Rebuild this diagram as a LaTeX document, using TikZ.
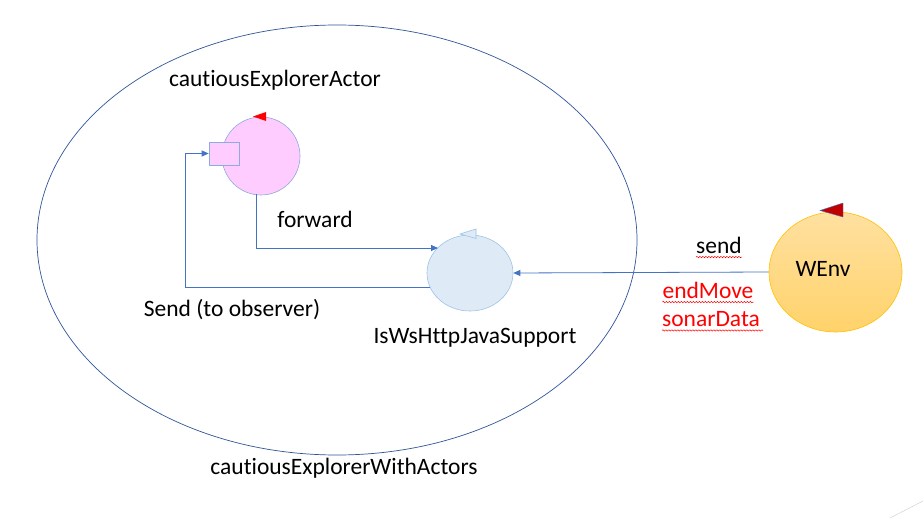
\documentclass[tikz,border=0pt]{standalone}
\usepackage{fontspec}
\setmainfont[RawFeature={-liga;-dlig;-clig}]{Carlito}
\usetikzlibrary{arrows.meta,decorations.pathmorphing,shapes.geometric}
\definecolor{conn}{HTML}{4472C4}
\definecolor{ellb}{HTML}{2F5597}
\definecolor{pinkf}{HTML}{FFCCFF}
\definecolor{lblue}{HTML}{8FAADC}
\definecolor{bluef}{HTML}{DEEBF7}
\definecolor{blueb}{HTML}{9DC3E6}
\definecolor{orgb}{HTML}{FFC000}
\definecolor{orgtop}{HTML}{FFE0A0}
\definecolor{orgbot}{HTML}{FFD36B}
\definecolor{dred}{HTML}{C00000}
\tikzset{
  lbl/.style={font=\fontsize{23.5}{26}\selectfont, inner sep=0pt},
  redlbl/.style={lbl, text=red},
  conline/.style={draw=conn, line width=0.8pt, -{Triangle[length=7pt,width=6pt]}},
  squig/.style={red, line width=0.5pt, decorate, decoration={snake, amplitude=0.7pt, segment length=3pt}}
}
\begin{document}
\begin{tikzpicture}[x=1pt,y=-1pt]
\useasboundingbox (0,0) rectangle (923,521);
\fill[white] (0,0) rectangle (923,521);
% big ellipse
\node[draw=ellb, line width=0.7pt, ellipse, minimum width=600pt, minimum height=430pt] (outer) at (337,240) {};
% pink actor
\node[draw=lblue, fill=pinkf, circle, minimum size=78pt, line width=0.6pt] (actor) at (261,156) {};
\node[draw=lblue, fill=pinkf, rectangle, minimum width=30pt, minimum height=23pt, line width=0.6pt] (port) at (224,153.5) {};
\fill[red] (253,116.5) -- (266,112) -- (266,121) -- cycle;
% support
\node[draw=blueb, fill=bluef, ellipse, minimum width=86pt, minimum height=76pt, line width=0.6pt] (support) at (470,273) {};
\filldraw[draw=blueb, fill=bluef, line width=0.6pt] (460,234) -- (476,229) -- (476,238.5) -- cycle;
% WEnv
\node[draw=orgb, top color=orgtop, bottom color=orgbot, ellipse, minimum width=133pt, minimum height=120pt, line width=0.6pt] (wenv) at (835.5,272) {};
\filldraw[draw=conn, fill=dred, line width=0.4pt] (820,210.5) -- (843,203) -- (843,217) -- cycle;
% connectors
\coordinate (fstart) at (256,194);
\coordinate (fcorner) at (256,248);
\draw[conline] (fstart) -- (fcorner) -- (fcorner -| 438,0);
\coordinate (sstart) at (430,287);
\coordinate (sc1) at (185,287);
\coordinate (sc2) at (185,153.5);
\draw[conline] (sstart) -- (sc1) -- (sc2) -- (port.west);
\draw[conline] (wenv.west) -- (support.east);
% labels
\node[lbl] (l1) at (275,80) {cautiousExplorerActor};
\node[lbl] (l2) at (315,219) {forward};
\node[lbl] (l3) at (232,310) {Send (to observer)};
\node[lbl] (l4) at (475,338) {IsWsHttpJavaSupport};
\node[lbl] (l5) at (344,468) {cautiousExplorerWithActors};
\node[lbl] (l6) at (719,245) {send};
\node[redlbl] (l7) at (708,290) {endMove};
\node[redlbl] (l8) at (711,319) {sonarData};
\node[lbl] (l9) at (823,269) {WEnv};
\draw[squig] ([yshift=-4pt]l6.base west) -- ([yshift=-4pt]l6.base east);
\draw[squig] ([yshift=-4pt]l7.base west) -- ([yshift=-4pt]l7.base east);
\draw[squig] ([yshift=-4pt]l8.base west) -- ([yshift=-4pt,xshift=3pt]l8.base east);
% slide artifact
\draw[gray!40, line width=0.4pt] (890,518) -- (923,501);
\end{tikzpicture}
\end{document}
